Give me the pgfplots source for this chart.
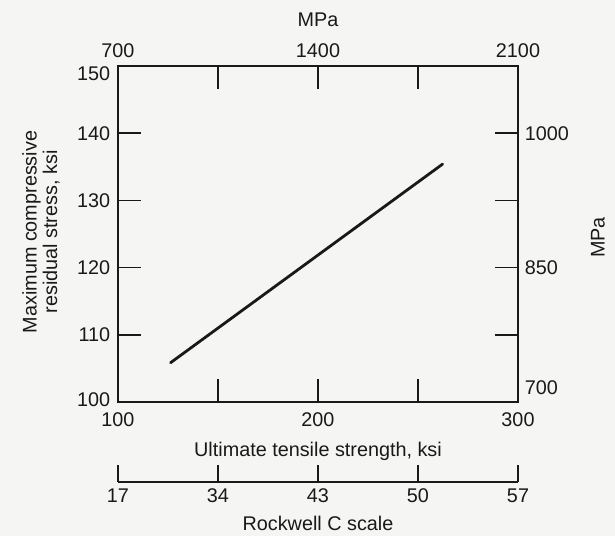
\documentclass[border=0pt]{standalone}
\usepackage{fontspec}
\setmainfont{Liberation Sans}
\usepackage{pgfplots}
\pgfplotsset{compat=1.18}

\definecolor{paper}{RGB}{245,245,243}
\definecolor{ink}{RGB}{25,25,25}

\newcommand{\chartfont}{\fontsize{19.8bp}{20.5bp}\selectfont}

\pgfplotsset{
  chartbase/.style={
    scale only axis,
    width=400bp,
    anchor=south west,
    /pgf/number format/assume math mode=true,
    tick align=inside,
    major tick length=23bp,
    every tick/.style={line width=1.5bp, ink},
    axis line style={line width=1.7bp, ink},
    label style={text=ink, font=\chartfont},
    tick label style={text=ink, font=\chartfont},
  },
}

\begin{document}
\chartfont
\begin{tikzpicture}
\fill[paper] (-118bp,-134bp) rectangle (497bp,402bp);
\path[use as bounding box] (-118bp,-134bp) rectangle (497bp,402bp);

% ksi scales: tensile strength (bottom) vs residual stress (left)
\begin{axis}[chartbase, at={(0,0)}, height=336bp,
  xmin=100, xmax=300, ymin=100, ymax=150,
  xtick={100,150,200,250,300}, xticklabels={100,,200,,300},
  ytick={100,110,120,130,140,150},
  yticklabels={\raisebox{3bp}{100},110,120,130,140,\raisebox{-7bp}{150}},
  xtick pos=left, ytick pos=left,
  xticklabel style={yshift=-4bp},
  yticklabel style={anchor=base east, yshift=-7.1bp, xshift=-1bp},
  xlabel={Ultimate tensile strength, ksi},
  xlabel style={at={(rel axis cs:0.5,0)}, anchor=center, yshift=-49bp},
  ylabel={Maximum compressive\\residual stress, ksi},
  ylabel style={at={(rel axis cs:0,0.506)}, anchor=center, yshift=77bp, align=center},
]
\addplot[ink, line width=2.8bp, line cap=round] coordinates {(126.3,105.85) (262.3,135.4)};
\end{axis}

% MPa scales on top and right
\begin{axis}[chartbase, at={(0,0)}, height=336bp,
  xmin=700, xmax=2100, ymin=700, ymax=1075,
  xtick={700,1050,1400,1750,2100}, xticklabels={700,,1400,,2100},
  ytick={700,775,850,925,1000},
  yticklabels={\raisebox{15bp}{700},,850,,1000},
  xtick pos=right, ytick pos=right,
  xticklabel pos=right, yticklabel pos=right,
  xticklabel style={yshift=2bp},
  yticklabel style={anchor=base west, yshift=-7.1bp},
  xlabel={MPa},
  xlabel style={at={(rel axis cs:0.5,1)}, anchor=center, yshift=46bp},
  ylabel={MPa},
  ylabel style={at={(rel axis cs:1,0.49)}, anchor=center, yshift=-80bp},
]
\end{axis}

% Rockwell C hardness scale
\begin{axis}[chartbase, at={(0,-80bp)}, height=20bp,
  xmin=100, xmax=300, ymin=0, ymax=1,
  hide y axis, axis x line*=bottom, x axis line style={-},
  major tick length=17bp,
  xtick={100,150,200,250,300}, xticklabels={17,34,43,50,57},
  xlabel={Rockwell C scale},
  xlabel style={at={(rel axis cs:0.5,0)}, anchor=center, yshift=-41bp},
]
\end{axis}
\end{tikzpicture}
\end{document}
